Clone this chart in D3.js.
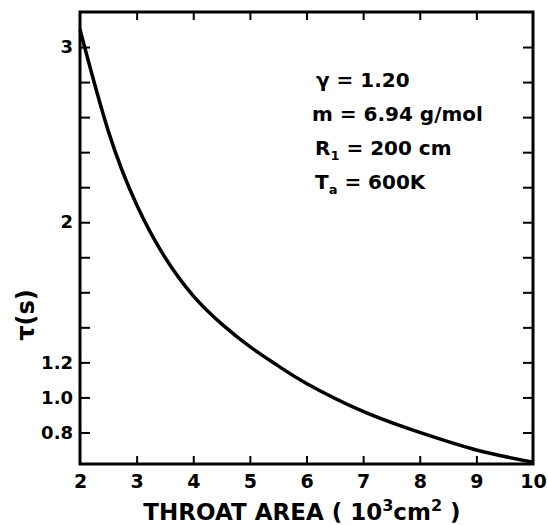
<!DOCTYPE html>
<html>
<head>
<meta charset="utf-8">
<script src="https://cdn.jsdelivr.net/npm/d3@7"></script>
<style>
  body { margin: 0; background: #fff; }
  svg { display: block; }
  text { font-family: "DejaVu Sans", sans-serif; font-weight: bold; fill: #000; }
</style>
</head>
<body>
<div id="chart"></div>
<script>
// throat area (10^3 cm^2) and tau (s)
const area = [2, 2.5, 3, 3.5, 4, 4.5, 5, 5.5, 6, 7, 8, 9, 10];
const tau = [3.10, 2.52, 2.10, 1.80, 1.58, 1.42, 1.29, 1.18, 1.08, 0.92, 0.80, 0.70, 0.63];

const yTicks = [0.8, 1.0, 1.2, 1.4, 1.6, 1.8, 2.0, 2.2, 2.4, 2.6, 2.8, 3.0];
const yLabels = {0.8: "0.8", 1.0: "1.0", 1.2: "1.2", 2.0: "2", 3.0: "3"};
const xTicks = [2, 3, 4, 5, 6, 7, 8, 9, 10];

const width = 548, height = 525;
const margin = {top: 12, right: 15, bottom: 61, left: 80};
const w = width - margin.left - margin.right;
const h = height - margin.top - margin.bottom;

const svg = d3.select('#chart')
  .append('svg')
    .attr('width', width)
    .attr('height', height);

const g = svg.append('g')
  .attr('transform', 'translate(' + margin.left + ',' + margin.top + ')');

const x = d3.scaleLinear().domain([2, 10]).range([0, w]);
const y = d3.scaleLinear().domain([0.62, 3.2]).range([h, 0]);

// bottom axis with labels
const xAxis = g.append('g')
  .attr('transform', 'translate(0,' + h + ')')
  .call(d3.axisBottom(x).tickValues(xTicks).tickSize(-8).tickPadding(11)
    .tickFormat(d => d));
// top axis, ticks only
const xTop = g.append('g')
  .call(d3.axisTop(x).tickValues(xTicks.slice(1, -1)).tickSize(-8).tickFormat(''));
// left axis
const yAxis = g.append('g')
  .call(d3.axisLeft(y).tickValues(yTicks).tickSize(-10).tickPadding(7)
    .tickFormat(d => yLabels[d] || ''));
// right axis, ticks only
const yRight = g.append('g')
  .attr('transform', 'translate(' + w + ',0)')
  .call(d3.axisRight(y).tickValues(yTicks).tickSize(-10).tickFormat(''));

[xAxis, xTop, yAxis, yRight].forEach(a => {
  a.select('.domain').remove();
  a.selectAll('.tick line').attr('stroke', '#000').attr('stroke-width', 2);
});
xAxis.selectAll('.tick line').filter(d => d === 2 || d === 10).remove();
xAxis.selectAll('text').style('font-size', '19px');
yAxis.selectAll('text').style('font-size', '18px');

// frame
g.append('rect')
  .attr('width', w)
  .attr('height', h)
  .attr('fill', 'none')
  .attr('stroke', '#000')
  .attr('stroke-width', 3);

// curve
const line = d3.line()
  .x((d, i) => x(area[i]))
  .y(d => y(d))
  .curve(d3.curveNatural);

g.append('path')
  .datum(tau)
  .attr('d', line)
  .attr('fill', 'none')
  .attr('stroke', '#000')
  .attr('stroke-width', 3.5);

// axis titles
svg.append('text')
  .attr('x', 302)
  .attr('y', 520)
  .attr('text-anchor', 'middle')
  .style('font-size', '23px')
  .html('THROAT AREA ( 10<tspan dy="-9" font-size="16px">3</tspan><tspan dy="9">cm</tspan><tspan dy="-9" font-size="16px">2</tspan><tspan dy="9"> )</tspan>');

svg.append('text')
  .attr('transform', 'translate(34,315) rotate(-90)')
  .attr('text-anchor', 'middle')
  .style('font-size', '24px')
  .text('τ(s)');

// parameter block
const params = svg.append('g').style('font-size', '20px');
params.append('text').attr('x', 316).attr('y', 87).text('γ = 1.20');
params.append('text').attr('x', 312).attr('y', 121).text('m = 6.94 g/mol');
params.append('text').attr('x', 315).attr('y', 155)
  .html('R<tspan dy="5" font-size="13px">1</tspan><tspan dy="-5"> = 200  cm</tspan>');
params.append('text').attr('x', 315).attr('y', 189)
  .html('T<tspan dy="5" font-size="13px">a</tspan><tspan dy="-5"> = 600K</tspan>');
</script>
</body>
</html>
